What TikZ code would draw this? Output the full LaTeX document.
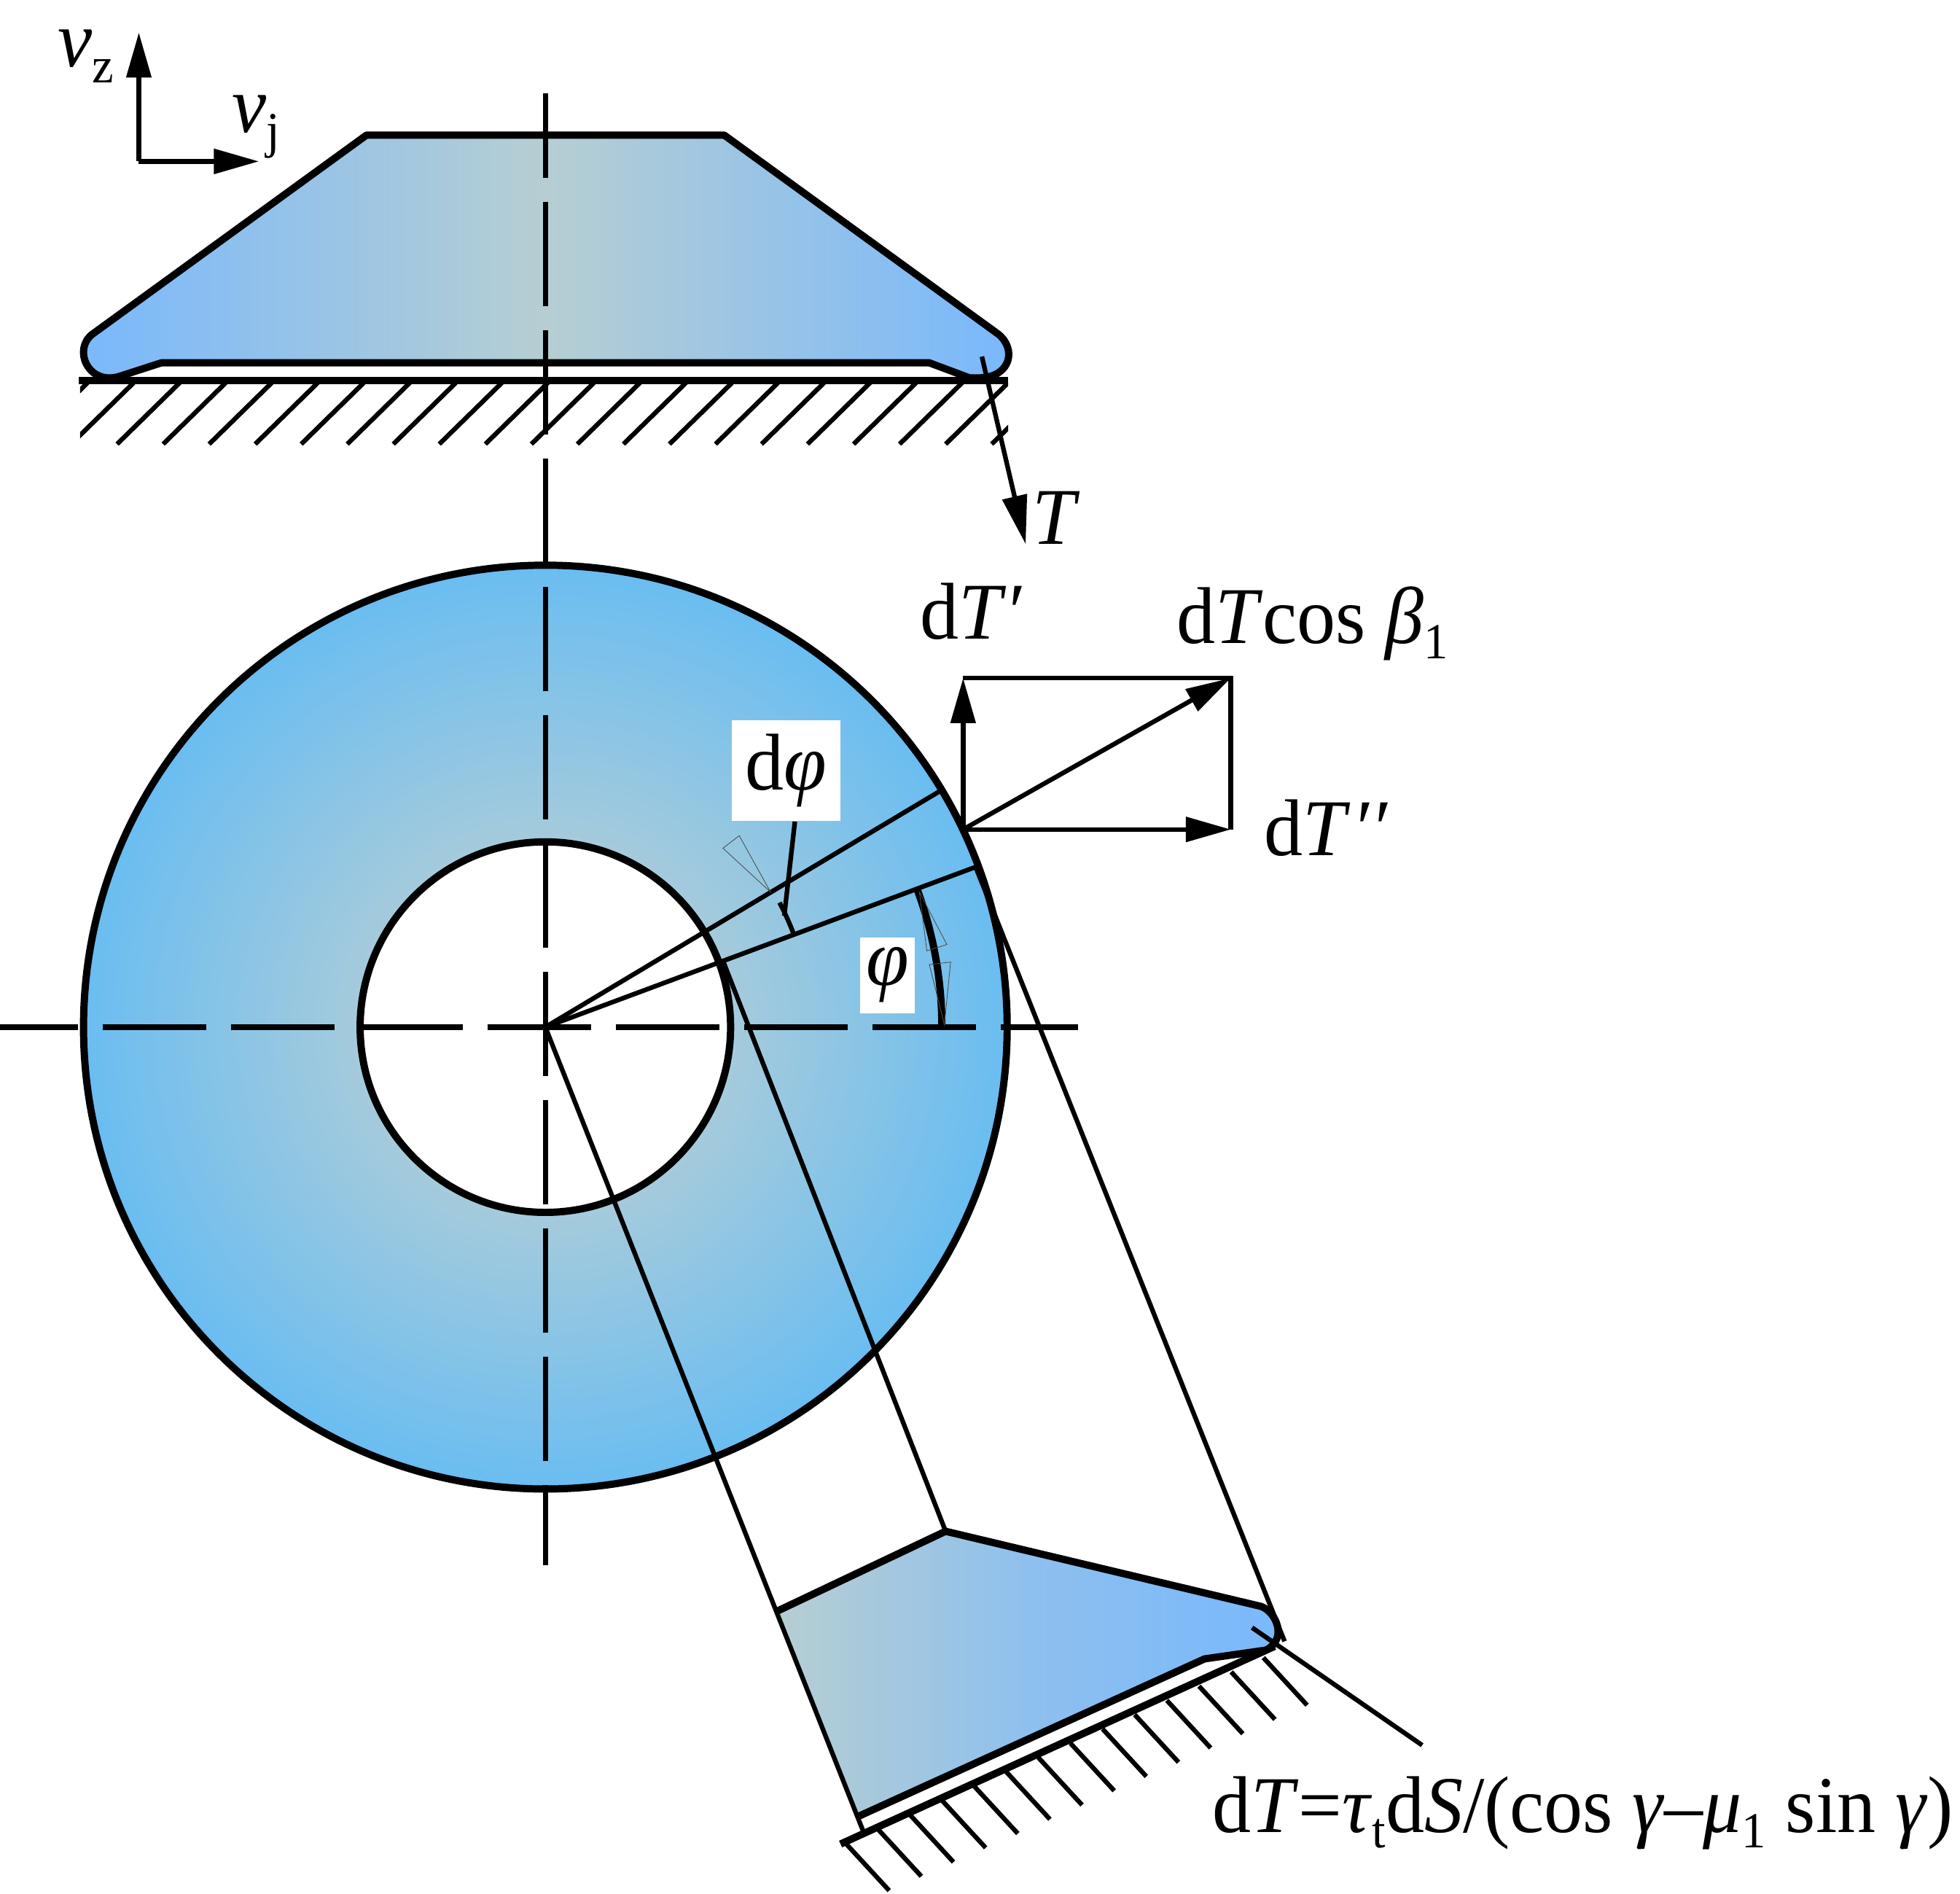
\documentclass[tikz,border=0pt]{standalone}
\usepackage{fontspec}
\setmainfont{Liberation Serif}[FakeStretch=0.96]
\usetikzlibrary{arrows.meta}
\definecolor{edgeblue}{RGB}{120,184,253}
\definecolor{midgrey}{RGB}{182,206,210}
\definecolor{ringin}{RGB}{205,212,205}
\definecolor{ringout}{RGB}{106,189,241}
\newcommand{\sbs}[1]{\raisebox{-0.42ex}{\fontsize{11.5pt}{12pt}\selectfont #1}}
\begin{document}
\begin{tikzpicture}[x=0.01cm, y=-0.01cm,
    heavy/.style = {line width = 0.058cm, line join = round},
    light/.style = {line width = 0.037cm},
    hair/.style = {line width = 0.005cm, draw = black!70},
    centreline/.style = {line width = 0.043cm, dash pattern = on 0.83cm off 0.195cm},
    force/.style = {light, -{Triangle[length = 0.36cm, width = 0.195cm]}},
    disc/.style = {circle, draw = black, heavy, inner sep = 0, outer sep = 0},
    txt/.style = {inner sep = 0, anchor = base west, font = \fontsize{18.3pt}{20pt}\selectfont},
    whitebox/.style = {fill = white, inner sep = 0, font = \fontsize{18.3pt}{20pt}\selectfont}]
    \useasboundingbox (0,0) rectangle (1567,1513.4);

    % ring
    \node [disc, minimum size = 7.38cm, inner color = ringin, outer color = ringout] (outer) at (436,821) {};
    \node [disc, minimum size = 2.96cm, fill = white] (hub) at (436,821) {};
    \coordinate (O) at (436,821);
    \coordinate (rimA) at (752,632);
    \coordinate (rimB) at (780,693);
    \coordinate (hubB) at (578,768);

    % upper section
    \shade [draw, heavy, left color = edgeblue, right color = edgeblue, middle color = midgrey]
        (293,108) -- (579,108) -- (798,267) .. controls (813,279) and (808,301) .. (784,302)
        -- (775,302) -- (743,290) -- (129,290) -- (95,301)
        .. controls (70,308) and (58,279) .. (74,267) -- cycle;
    \draw [heavy] (63,304) -- (806,304);
    \begin{scope}
        \clip (64,304) rectangle (806,356);
        \foreach \k in {0,...,21}
            \draw [light] ({70+36.8*\k},306) -- ++(-50,49);
    \end{scope}

    % lower section
    \shade [left color = midgrey, right color = edgeblue, middle color = midgrey!35!edgeblue]
        (756,1224) -- (1008,1284) .. controls (1020,1288) and (1030,1310) .. (1012,1319)
        -- (963,1326) -- (686,1452) -- (621,1288) -- cycle;
    \draw [heavy] (621,1288) -- (756,1224) -- (1008,1284) .. controls (1020,1288) and (1030,1310) .. (1012,1319)
        -- (963,1326) -- (686,1452);
    \draw [heavy] (672,1474) -- (1019,1316);
    \foreach \k in {0,...,13}
        \draw [light] ({1010-25.7*\k},{1325+11.4*\k}) -- ++(35,38);

    % projection lines
    \coordinate (footA) at (691,1466);
    \coordinate (footB) at (756,1224);
    \coordinate (footC) at (1027,1312);
    \draw [light] (O) -- (rimA);
    \draw [light] (O) -- (rimB);
    \draw [light] (O) -- (footA);
    \draw [light] (hubB) -- (footB);
    \draw [light] (rimB) -- (footC);
    \coordinate (leadA) at (1001,1301);
    \coordinate (leadB) at (1137,1395);
    \draw [light] (leadA) -- (leadB);

    % centre lines
    \draw [centreline, dash phase = 0.206cm] (0,821) -- (862,821);
    \draw [centreline, dash phase = 0.156cm] (436,74.6) -- (436,1251);

    % angle marks
    \draw [heavy] (O) ++(0:317) arc (0:-20.4:317);
    \draw [light] (O) ++(-20.4:212) arc (-20.4:-28:212);
    \draw [hair] (578,678) -- (591,668) -- (616,713) -- cycle;
    \draw [hair] (735,713) -- (741,760) -- (757,755) -- cycle;
    \draw [hair] (743,771) -- (760,769) -- (755,819) -- cycle;

    % boxed labels
    \node [whitebox, minimum width = 0.87cm, minimum height = 0.8cm] (dphibox) at (628.5,616) {d\textit{φ}};
    \node [whitebox, minimum width = 0.435cm, minimum height = 0.605cm] (phibox) at (709.5,779.5) {\textit{φ}};
    \coordinate (dphitip) at (627,732);
    \draw [light] (dphibox.south) ++(7,0) -- (dphitip);

    % forces
    \coordinate (P) at (770,663);
    \coordinate (Pup) at (770,542);
    \coordinate (Pfar) at (984,542);
    \coordinate (Pright) at (984,663);
    \draw [light] (Pup) -- (Pfar) -- (Pright);
    \draw [force] (P) -- (Pup);
    \draw [force] (P) -- (Pfar);
    \draw [force] (P) -- (Pright);
    \coordinate (Tfrom) at (785,285);
    \coordinate (Tto) at (820,435);
    \draw [force, -{Triangle[length = 0.39cm, width = 0.195cm]}] (Tfrom) -- (Tto);

    % speed axes
    \coordinate (axes) at (111,129);
    \coordinate (axesZ) at (111,26);
    \coordinate (axesJ) at (207,129);
    \draw [force] (axes) -- (axesZ);
    \draw [force] (axes) -- (axesJ);

    % labels
    \node [txt] (vz) at (45.6,53.6) {\textit{v}\sbs{z}};
    \node [txt] (vj) at (185,105.6) {\textit{v}\sbs{j}};
    \node [txt] (tT) at (825,435) {\textit{T}};
    \node [txt] (dT1) at (735,510.6) {d\textit{T}\kern0.03em′};
    \node [txt] (dTb) at (940,514) {d\textit{T}cos \textit{β}\sbs{1}};
    \node [txt] (dT2) at (1010,683.6) {d\textit{T}\kern0.08em′\kern0.02em′};
    \node [txt] (form) at (968.6,1464.6) {d\textit{T}=\textit{τ}\sbs{t}d\textit{S}/(cos \textit{γ}–\textit{μ}\sbs{1} sin \textit{γ})};
\end{tikzpicture}
\end{document}
